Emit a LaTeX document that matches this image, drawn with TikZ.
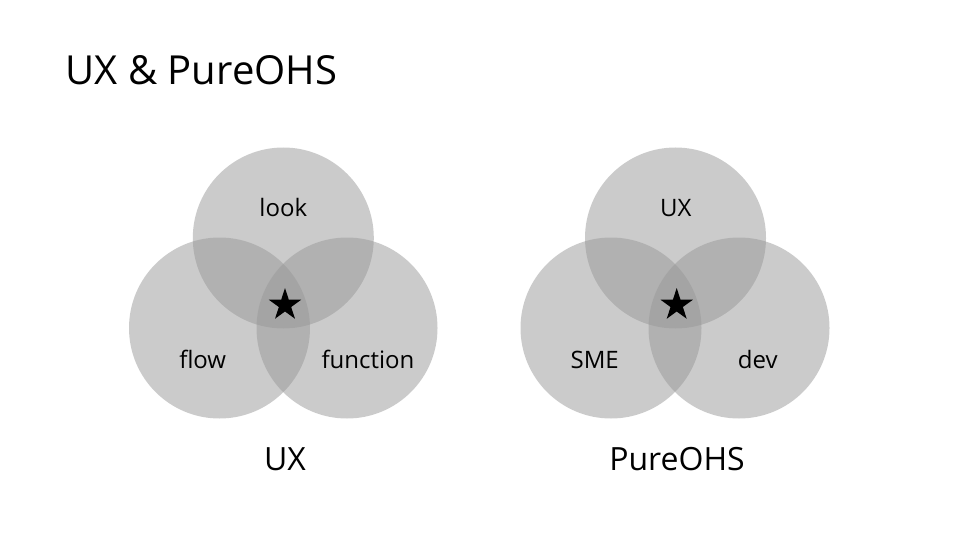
\documentclass[tikz,border=0pt]{standalone}
\usepackage{fontspec}
\setmainfont{Open Sans}
\usetikzlibrary{shapes.geometric}
\begin{document}
\begin{tikzpicture}[x=1pt,y=-1pt,
  venn/.style={circle,minimum size=181pt,inner sep=0pt,fill=black!40,fill opacity=0.5,draw=none},
  lab/.style={anchor=base,inner sep=0pt,font=\fontsize{24}{28}\selectfont},
  big/.style={anchor=base,inner sep=0pt,font=\fontsize{32}{38}\selectfont},
  starmark/.style={star,star points=5,star point ratio=2.618,minimum size=34pt,inner sep=0pt,fill=black,draw=none}]
\useasboundingbox (0,0) rectangle (960,540);
\fill[white] (0,0) rectangle (960,540);
\node[anchor=base west,inner sep=0pt,font=\fontsize{40}{48}\selectfont] (title) at (65.5,84.3) {UX \& PureOHS};
% left diagram
\node[venn] (a1) at (283.3,238) {};
\node[venn] (a2) at (219.5,328) {};
\node[venn] (a3) at (347,328) {};
\node[lab] (look) at (283.3,216) {look};
\node[lab] (flow) at (202.7,368.3) {flow};
\node[lab] (func) at (368,368.3) {function};
\node[starmark] (s1) at (285,305) {};
\node[big] (ux) at (285,470.7) {UX};
% right diagram
\node[venn] (b1) at (675.5,238) {};
\node[venn] (b2) at (611,328) {};
\node[venn] (b3) at (739,328) {};
\node[lab] (uxr) at (675.8,216) {UX};
\node[lab] (sme) at (594.7,368.3) {SME};
\node[lab] (dev) at (757.8,368.3) {dev};
\node[starmark] (s2) at (676.7,305) {};
\node[big] (pure) at (677,470.7) {PureOHS};
\end{tikzpicture}
\end{document}
